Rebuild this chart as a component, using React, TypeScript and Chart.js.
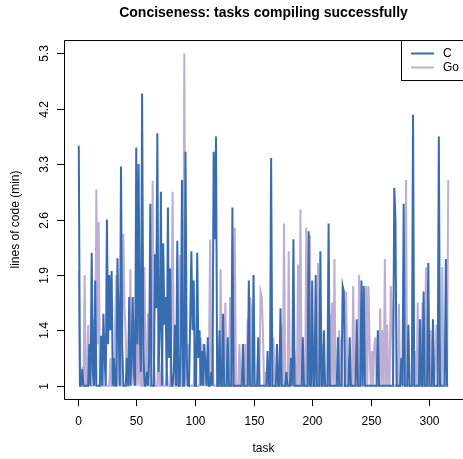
import React, { useEffect, useRef } from "react";
import { Chart, registerables } from "chart.js";

Chart.register(...registerables);

const TITLE = "Conciseness: tasks compiling successfully";
const X_TITLE = "task";
const Y_TITLE = "lines of code (min)";
const SERIES_NAMES = ["C", "Go"];
const SERIES_COLORS = ["#386CB0", "#BEAED4"];
const Y_TICK_LABELS = [1, 1.4, 1.9, 2.6, 3.3, 4.2, 5.3];
const X_TICKS = [0, 50, 100, 150, 200, 250, 300];

// lines of code relative to the minimum, tasks 1..316
const C_LOC = [
  3.6, 1, 1, 1.12, 1, 1, 1, 1, 1, 1.3,
  1, 2.18, 1.1, 1, 1.85, 1, 1, 1, 1, 1.36,
  1, 1.55, 1.2, 1, 2.6, 1.3, 1.9, 1.4, 1.95, 1,
  1.2, 1, 1, 2.11, 1.4, 1, 3.27, 1.3, 1, 1,
  1, 1.2, 1, 1.7, 1, 1.2, 1.7, 1.1, 1, 3.57,
  1.3, 3.3, 1.4, 1.1, 4.5, 1.3, 1, 1, 1.1, 1,
  1.2, 2.8, 1, 1, 1, 2.16, 1.6, 3.8, 1.1, 1.4,
  2.95, 1, 2.3, 1.45, 1.7, 1, 2.75, 1.2, 1.98, 1,
  1, 1.1, 1.45, 1, 2.33, 1, 1, 1.3, 3.1, 1,
  1, 3.5, 1.2, 1, 1, 1.5, 2.2, 1.4, 1.85, 1,
  1, 2.18, 1.2, 1.4, 1, 1.25, 1, 1.3, 1.15, 1,
  1.35, 1, 1, 1.1, 1, 3.5, 2.35, 3.75, 1, 1,
  1.4, 1, 1, 1.55, 1, 1, 1, 1.35, 1, 1,
  1, 2.75, 1, 1, 1, 1, 1, 1, 1, 1,
  1.3, 1, 1, 1, 1, 1.85, 1, 1, 1, 1.9,
  1, 1, 1, 1.35, 1, 1, 1, 1, 1, 1,
  1, 1.25, 1, 1, 3.4, 1, 1, 1, 1, 1.3,
  1, 1, 1.6, 1, 1, 1, 1, 1.1, 1, 1,
  1, 1.2, 1, 2.35, 1, 1, 1, 1, 1, 1,
  1, 1.35, 1, 1, 1, 1, 2.45, 1, 1, 1.85,
  1, 1, 1.9, 1, 1, 1, 2.2, 1, 1, 1.4,
  1, 1, 1, 2.55, 1, 1, 1, 1, 1, 1,
  1, 1.35, 1, 1, 1, 1.8, 1.75, 1, 1, 1,
  1, 1.35, 1, 1, 1, 1, 1, 1.5, 1, 1,
  1, 1.85, 1, 1.8, 1, 1, 1, 1, 1, 1,
  1, 1, 1, 1, 1, 1.4, 1, 1, 1, 1,
  1, 1, 1, 1, 1, 1, 1, 1, 1, 3.0,
  2.6, 1, 1, 1, 1, 1.2, 1, 2.8, 1, 1,
  1, 1.45, 1, 1, 1, 4.1, 1, 1, 1, 1,
  1, 1.5, 1, 1, 1.75, 1, 1, 1, 2.05, 1,
  1, 1, 1.5, 1, 1, 1, 1, 3.75, 1, 1,
  1, 1, 1, 2.1, 1, 1,
];

const GO_LOC = [
  1.95, 1, 1.1, 1.12, 1, 1.9, 1, 1, 1.45, 1,
  1, 1, 1, 1.5, 1, 2.98, 1.3, 2.57, 1, 1,
  1.3, 1, 1, 1, 1, 1, 1, 1.2, 1, 1,
  1, 1.45, 1.9, 1, 1.7, 1, 1, 1.4, 2.42, 1.6,
  1.36, 1, 1, 1, 1.97, 1, 1.3, 1, 1.5, 1,
  1.7, 1, 1.8, 1, 1, 1.3, 2.0, 1.2, 1, 1.55,
  1, 1, 1.3, 3.09, 1.2, 1, 1, 1, 1.3, 1,
  1, 1.2, 1, 1, 1, 1.1, 1, 1, 1, 1.5,
  2.95, 1.3, 1, 1, 1, 1.2, 2.15, 1, 1, 1.4,
  5.3, 1.1, 1, 1.3, 1, 1, 1, 1, 1, 1.3,
  1, 1, 1, 1, 1.35, 1, 1.3, 1, 1.1, 1,
  1, 1.2, 2.35, 1, 1.3, 1, 1, 1, 1, 1,
  1, 1.97, 1, 1, 1.2, 1.65, 1, 1, 1, 1.7,
  1, 1, 1, 2.5, 1, 1, 1, 1.3, 1, 1,
  1, 1, 1.3, 1, 1.5, 1, 1.7, 1.6, 1, 1,
  1, 1, 1, 1, 1, 1.75, 1.7, 1.4, 1, 1.1,
  1, 1, 1, 1, 1, 1, 1.35, 1, 1, 1,
  1, 1, 1, 1.45, 1, 2.55, 1, 1, 1, 2.2,
  1, 1, 1, 1, 1.25, 1, 1, 2.03, 1, 2.73,
  1, 1, 1, 1, 2.5, 1, 1, 2.4, 1, 1,
  1, 1, 1, 1, 2.05, 1, 1, 1, 1.3, 1,
  1, 1, 1, 1, 1.55, 1, 1.65, 1, 2.1, 1,
  1, 1, 1.4, 1, 1.35, 1, 1, 1, 1.75, 1,
  1.2, 1, 1, 1, 1.8, 1, 1, 1, 1, 1.9,
  1, 1, 1, 1, 1, 1.8, 1, 1.8, 1.3, 1,
  1.25, 1, 1.3, 1.35, 1, 1, 1, 1.6, 1, 1.4,
  1, 2.1, 1, 1.45, 1, 1, 1.8, 1.55, 1, 1,
  1, 1, 1, 1.64, 1, 1, 1, 1, 1, 3.1,
  1, 1, 1, 1, 1, 1, 1, 1.25, 1, 1.65,
  1, 1, 1, 1.65, 1, 1, 2.0, 1, 1, 1,
  1.4, 1, 1, 1, 1.2, 1.45, 1, 1, 1, 1,
  2.0, 1, 1.2, 1.5, 1, 3.1,
];

// axis position of a value: the tick labels are evenly spaced on the axis
function toPos(v: number): number {
  const n = Y_TICK_LABELS.length;
  for (let i = 0; i < n - 1; i++) {
    const a = Y_TICK_LABELS[i];
    const b = Y_TICK_LABELS[i + 1];
    if (v <= b || i === n - 2) return i + (v - a) / (b - a);
  }
  return 0;
}

const FONT = '"Liberation Sans", Arial, Helvetica, sans-serif';

const rPlot = {
  id: "rPlot",
  afterDraw(chart: any) {
    const { ctx, chartArea: ca, scales } = chart;
    const xs = scales.x;
    const ys = scales.y;
    ctx.save();
    ctx.strokeStyle = "#000";
    ctx.fillStyle = "#000";
    ctx.lineWidth = 1;

    // box
    ctx.beginPath();
    ctx.rect(Math.round(ca.left) + 0.5, Math.round(ca.top) + 0.5, ca.right - ca.left + 2, Math.round(ca.bottom) - Math.round(ca.top));
    ctx.stroke();

    // y ticks
    ctx.font = `12px ${FONT}`;
    Y_TICK_LABELS.forEach((lab, i) => {
      const y = Math.round(ys.getPixelForValue(i)) + 0.5;
      ctx.beginPath();
      ctx.moveTo(ca.left, y);
      ctx.lineTo(ca.left - 7, y);
      ctx.stroke();
      ctx.save();
      ctx.translate(48, y);
      ctx.rotate(-Math.PI / 2);
      ctx.textAlign = "center";
      ctx.textBaseline = "alphabetic";
      ctx.fillText(String(lab), 0, 0);
      ctx.restore();
    });

    // x ticks
    X_TICKS.forEach((v) => {
      const x = Math.round(xs.getPixelForValue(v)) + 0.5;
      ctx.beginPath();
      ctx.moveTo(x, ca.bottom);
      ctx.lineTo(x, ca.bottom + 7);
      ctx.stroke();
      ctx.textAlign = "center";
      ctx.textBaseline = "alphabetic";
      ctx.fillText(String(v), x, 424.5);
    });

    // axis titles
    ctx.textAlign = "center";
    ctx.fillText(X_TITLE, (ca.left + ca.right) / 2, 452);
    ctx.save();
    ctx.translate(19, (ca.top + ca.bottom) / 2);
    ctx.rotate(-Math.PI / 2);
    ctx.fillText(Y_TITLE, 0, 0);
    ctx.restore();

    // title
    ctx.font = `bold 14px ${FONT}`;
    ctx.fillText(TITLE, (ca.left + ca.right) / 2, 17);

    // legend
    ctx.font = `12px ${FONT}`;
    ctx.fillStyle = "#fff";
    ctx.fillRect(401.5, 40.5, 70, 40);
    ctx.strokeStyle = "#000";
    ctx.strokeRect(401.5, 40.5, 70, 40);
    const rows = [53.5, 67.5];
    SERIES_NAMES.forEach((name, i) => {
      ctx.strokeStyle = SERIES_COLORS[i];
      ctx.lineWidth = 2;
      ctx.beginPath();
      ctx.moveTo(411, rows[i]);
      ctx.lineTo(434, rows[i]);
      ctx.stroke();
      ctx.fillStyle = "#000";
      ctx.textAlign = "left";
      ctx.textBaseline = "middle";
      ctx.fillText(name, 443, rows[i] + 0.5);
    });
    ctx.restore();
  },
};

export default function App() {
  const ref = useRef<HTMLCanvasElement | null>(null);

  useEffect(() => {
    const canvas = ref.current;
    if (!canvas) return;
    const n = C_LOC.length;
    const pad = 0.04 * (n - 1);
    const mk = (arr: number[]) => arr.map((v, i) => ({ x: i + 1, y: toPos(v) }));
    const ymax = Y_TICK_LABELS.length - 1;
    const chart = new Chart(canvas, {
      type: "line",
      data: {
        datasets: [
          {
            label: SERIES_NAMES[0],
            data: mk(C_LOC),
            borderColor: SERIES_COLORS[0],
            borderWidth: 2,
            pointRadius: 0,
            tension: 0,
            fill: false,
          },
          {
            label: SERIES_NAMES[1],
            data: mk(GO_LOC),
            borderColor: SERIES_COLORS[1],
            borderWidth: 2,
            pointRadius: 0,
            tension: 0,
            fill: false,
          },
        ],
      },
      options: {
        animation: false,
        responsive: false,
        devicePixelRatio: 1,
        parsing: false,
        layout: { padding: { left: 64, top: 40, right: 0, bottom: 60 } },
        plugins: { legend: { display: false }, title: { display: false }, tooltip: { enabled: false } },
        events: [],
        scales: {
          x: { type: "linear", display: false, min: 1 - pad, max: n + pad },
          y: { type: "linear", display: false, min: -0.04 * ymax, max: ymax * 1.04 },
        },
      },
      plugins: [rPlot],
    });
    return () => chart.destroy();
  }, []);

  return (
    <div style={{ position: "fixed", left: 0, top: 0, width: 463, height: 459, background: "#fff" }}>
      <canvas ref={ref} width={463} height={459} style={{ display: "block" }} />
    </div>
  );
}
